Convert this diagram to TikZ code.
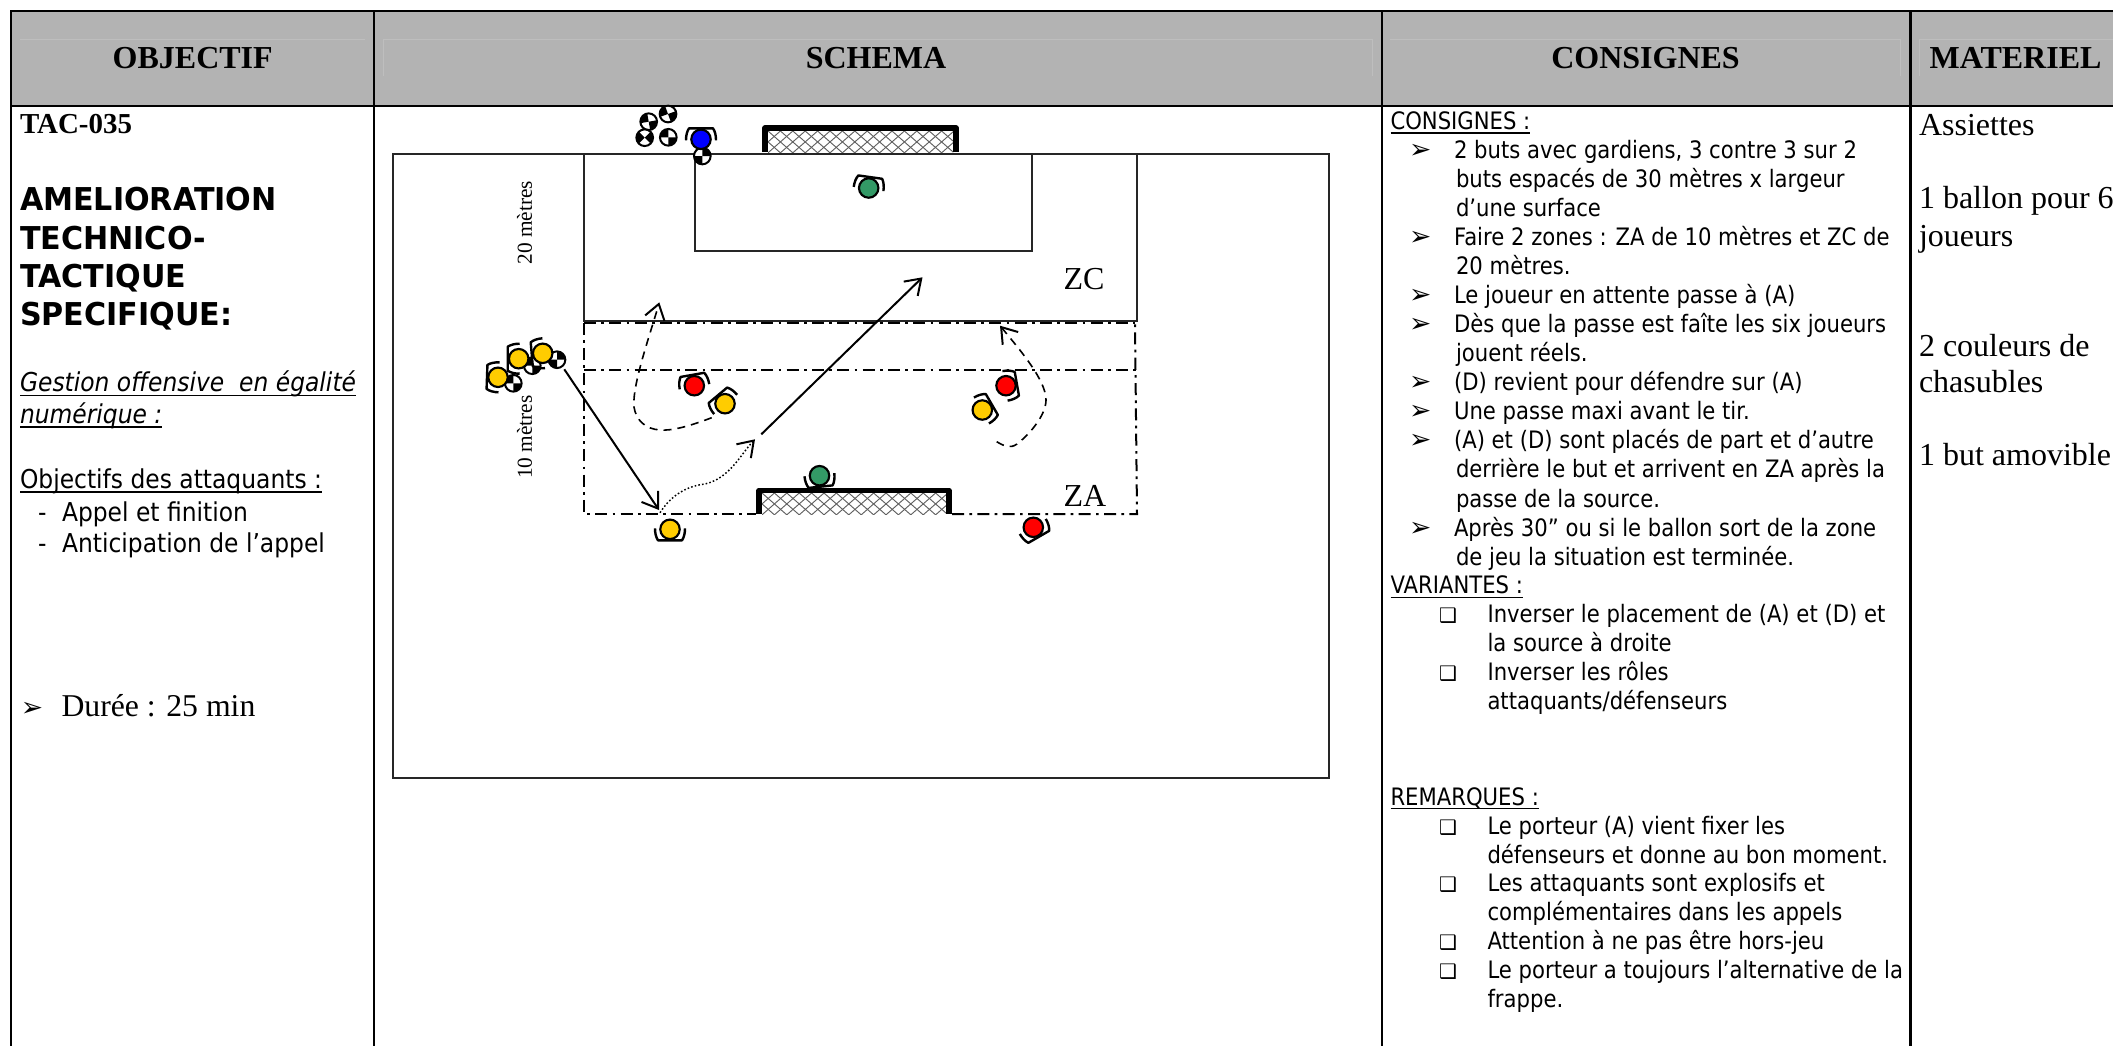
\documentclass[tikz,border=0pt]{standalone}
\usepackage{fontspec}
\setmainfont{Liberation Serif}
\newfontfamily\tah[FakeStretch=0.882]{DejaVu Sans}
\newfontfamily\tahl[FakeStretch=0.9]{DejaVu Sans}
\newfontfamily\tahb[FakeStretch=0.958]{DejaVu Sans}
\newfontfamily\djv{DejaVu Sans}
\usetikzlibrary{arrows.meta}
\newcommand\ulx[2][1.1pt]{\setbox0\hbox{#2}\rlap{\rule[-3.2pt]{\wd0}{#1}}\box0}
\definecolor{headgray}{HTML}{B3B3B3}
\definecolor{headline}{HTML}{BEBEBE}
\definecolor{netgray}{HTML}{606060}
\definecolor{plyellow}{HTML}{FFCC00}
\definecolor{plgreen}{HTML}{339966}
\tikzset{
  border/.style={line width=2pt,black},
  fieldline/.style={line width=1.5pt,black!85},
  zoneline/.style={line width=1.5pt,black,dash pattern=on 9pt off 4pt on 2pt off 4pt},
  goalbar/.style={line width=4.2pt,black,line join=round},
  netline/.style={line width=.7pt,netgray},
  hand/.style={line width=1.8pt,black,line join=round},
  playernode/.style={circle,draw=black,line width=1.6pt,inner sep=0pt,minimum size=14.6pt},
  ballnode/.style={circle,draw=black,line width=1.5pt,fill=white,inner sep=0pt,minimum size=12.5pt},
  headtxt/.style={font=\fontsize{24}{24}\selectfont\bfseries,inner sep=0pt,anchor=base},
  txt/.style={anchor=base west,inner sep=0pt,outer sep=0pt},
  ctxt/.style={txt,font=\fontsize{18}{20}\selectfont\tah},
  ltxt/.style={txt,font=\fontsize{19.5}{20}\selectfont\tahl},
  btxt/.style={txt,font=\fontsize{23.6}{24}\selectfont\tahb\bfseries},
  stxt/.style={txt,font=\fontsize{24}{24}\selectfont},
  bul/.style={txt,font=\fontsize{20}{20}\selectfont\djv},
  sqb/.style={txt,font=\fontsize{15}{15}\selectfont\djv},
  pass/.style={line width=1.5pt,-{Straight Barb[length=11pt,width=15pt,line width=1.5pt]}},
  run/.style={pass,line width=1.2pt,dash pattern=on 6pt off 4.5pt},
  drib/.style={pass,line width=1.1pt,dash pattern=on 1.2pt off 1.6pt},
  rotlbl/.style={font=\fontsize{16}{16}\selectfont,rotate=90,inner sep=0pt},
  zonelbl/.style={font=\fontsize{24}{24}\selectfont,inner sep=0pt,anchor=base}
}
% player: name, x, y, clockwise angle of the hands, colour
\newcommand\player[5]{%
  \draw[hand,shift={(#2,#3)},rotate=-#4] (-15,1) .. controls (-15,-4) and (-14,-8) .. (-12,-11) -- (12,-11) .. controls (14,-8) and (15,-4) .. (15,1);
  \node[playernode,fill=#5] (#1) at (#2,#3) {};}
% ball: name, x, y, angle
\newcommand\ball[4]{%
  \node[ballnode] (#1) at (#2,#3) {};
  \begin{scope}[shift={(#2,#3)},rotate=#4]
    \fill[black] (0,0) -- (7.8,0) arc[start angle=0,end angle=90,radius=7.8] -- cycle;
    \fill[black] (0,0) -- (-7.8,0) arc[start angle=180,end angle=270,radius=7.8] -- cycle;
  \end{scope}}
\newcommand\netfill[4]{%
  \begin{scope}
    \clip (#1,#2) rectangle (#3,#4);
    \foreach \k in {-4,...,20}{
      \draw[netline] ({#1+\k*12.4},#2) -- ++(25,22) ;
      \draw[netline] ({#1+\k*12.4},#2) -- ++(-25,22) ;
    }
  \end{scope}}
\begin{document}
\begin{tikzpicture}[x=.75pt,y=-.75pt]
\useasboundingbox (0,0) rectangle (2113,1046);
\fill[white] (0,0) rectangle (2113,1046);
% header band
\fill[headgray] (11,11) rectangle (2113,106);
\draw[headline,line width=.5pt] (20,39.5) -- (365,39.5);
\draw[headline,line width=.5pt] (383,76) -- (383,39.5) -- (1372,39.5) -- (1372,76);
\draw[headline,line width=.5pt] (1390,39.5) -- (1900,39.5) -- (1900,76);
\draw[headline,line width=.5pt] (1919,76) -- (1919,39.5) -- (2113,39.5);
% table rules
\draw[border] (2113,11) -- (11,11) -- (11,1046);
\draw[border] (11,106) -- (2113,106);
\draw[border] (374,11) -- (374,1046);
\draw[border] (1382,11) -- (1382,1046);
\draw[border] (1910.5,11) -- (1910.5,1046);
% header text
\node[headtxt] (hobj) at (192.7,68) {OBJECTIF};
\node[headtxt] (hsch) at (876,68) {SCHEMA};
\node[headtxt] (hcon) at (1645.5,68) {CONSIGNES};
\node[headtxt] (hmat) at (2015.5,68) {MATERIEL};
% left column
\node[txt,font=\fontsize{21.7}{22}\selectfont\bfseries] (tac) at (20,133) {TAC-035};
\node[btxt] (l1) at (20,210) {AMELIORATION};
\node[btxt] (l2) at (20,249) {TECHNICO-};
\node[btxt] (l3) at (20,287) {TACTIQUE};
\node[btxt] (l4) at (20,325.5) {SPECIFIQUE:};
\node[ltxt] (l5) at (20,391.7) {\ulx{\itshape Gestion offensive\ \ en égalité}};
\node[ltxt] (l6) at (20,423.3) {\ulx{\itshape numérique :}};
\node[ltxt] (l7) at (20,488.3) {\ulx{Objectifs des attaquants :}};
\node[ltxt] (l8a) at (38,521) {-};
\node[ltxt] (l8) at (62,521) {Appel et finition};
\node[ltxt] (l9a) at (38,552.7) {-};
\node[ltxt] (l9) at (62,552.7) {Anticipation de l’appel};
\node[bul] (l10a) at (21,716) {➢};
\node[stxt,font=\fontsize{23.8}{24}\selectfont] (l10) at (61.5,716) {Durée : 25 min};
% consignes column
\node[ctxt] (c0) at (1390.5,129.3) {\ulx{CONSIGNES :}};
\node[bul] (cb1) at (1409,158.3) {➢};
\node[ctxt] (c1) at (1454,158.3) {2 buts avec gardiens, 3 contre 3 sur 2};
\node[ctxt] (c2) at (1456,187.3) {buts espacés de 30 mètres x largeur};
\node[ctxt] (c3) at (1456,216.7) {d’une surface};
\node[bul] (cb2) at (1409,245.7) {➢};
\node[ctxt] (c4) at (1454,245.7) {Faire 2 zones : ZA de 10 mètres et ZC de};
\node[ctxt] (c5) at (1456,274.7) {20 mètres.};
\node[bul] (cb3) at (1409,303.3) {➢};
\node[ctxt] (c6) at (1454,303.3) {Le joueur en attente passe à (A)};
\node[bul] (cb4) at (1409,332.3) {➢};
\node[ctxt] (c7) at (1454,332.3) {Dès que la passe est faîte les six joueurs};
\node[ctxt] (c8) at (1456,361.7) {jouent réels.};
\node[bul] (cb5) at (1409,390.7) {➢};
\node[ctxt] (c9) at (1454,390.7) {(D) revient pour défendre sur (A)};
\node[bul] (cb6) at (1409,419.3) {➢};
\node[ctxt] (c10) at (1454,419.3) {Une passe maxi avant le tir.};
\node[bul] (cb7) at (1409,448.3) {➢};
\node[ctxt] (c11) at (1454,448.3) {(A) et (D) sont placés de part et d’autre};
\node[ctxt] (c12) at (1456,477.7) {derrière le but et arrivent en ZA après la};
\node[ctxt] (c13) at (1456,507) {passe de la source.};
\node[bul] (cb8) at (1409,536) {➢};
\node[ctxt] (c14) at (1454,536) {Après 30” ou si le ballon sort de la zone};
\node[ctxt] (c15) at (1456,565) {de jeu la situation est terminée.};
\node[ctxt] (v0) at (1390.5,593.7) {\ulx{VARIANTES :}};
\node[sqb] (vb1) at (1439,622.7) {❑};
\node[ctxt] (v1) at (1487.5,622.7) {Inverser le placement de (A) et (D) et};
\node[ctxt] (v2) at (1487.5,651.3) {la source à droite};
\node[sqb] (vb2) at (1439,680.7) {❑};
\node[ctxt] (v3) at (1487.5,680.7) {Inverser les rôles};
\node[ctxt] (v4) at (1487.5,709.3) {attaquants/défenseurs};
\node[ctxt] (r0) at (1390.5,805) {\ulx{REMARQUES :}};
\node[sqb] (rb1) at (1439,834) {❑};
\node[ctxt] (r1) at (1487.5,834) {Le porteur (A) vient fixer les};
\node[ctxt] (r2) at (1487.5,863.3) {défenseurs et donne au bon moment.};
\node[sqb] (rb2) at (1439,891.7) {❑};
\node[ctxt] (r3) at (1487.5,891.7) {Les attaquants sont explosifs et};
\node[ctxt] (r4) at (1487.5,920.7) {complémentaires dans les appels};
\node[sqb] (rb3) at (1439,949.3) {❑};
\node[ctxt] (r5) at (1487.5,949.3) {Attention à ne pas être hors-jeu};
\node[sqb] (rb4) at (1439,978.7) {❑};
\node[ctxt] (r6) at (1487.5,978.7) {Le porteur a toujours l’alternative de la};
\node[ctxt] (r7) at (1487.5,1007.3) {frappe.};
% materiel column
\node[stxt] (m1) at (1919,135) {Assiettes};
\node[stxt] (m2) at (1919,208) {1 ballon pour 6};
\node[stxt] (m3) at (1919,246) {joueurs};
\node[stxt] (m4) at (1919,356) {2 couleurs de};
\node[stxt] (m5) at (1919,392.7) {chasubles};
\node[stxt] (m6) at (1919,465.7) {1 but amovible};
% field
\draw[fieldline] (392.5,154.3) rectangle (1329,777.5);
\draw[fieldline] (584,154.3) -- (584,321) -- (1137,321) -- (1137,154.3);
\draw[fieldline] (695,154.3) -- (695,251) -- (1032,251) -- (1032,154.3);
\draw[zoneline] (584,322.5) -- (1135,322.5);
\draw[zoneline] (584,322.5) -- (584,514) -- (756,514);
\draw[zoneline] (952,514) -- (1137,514) -- (1135,322.5);
\draw[zoneline] (584,370) -- (1137,370);
% goals
\netfill{768}{131}{953}{152}
\draw[goalbar] (765,152) -- (765,128) -- (956,128) -- (956,152);
\netfill{762}{493}{946}{514}
\draw[goalbar] (759,514) -- (759,490.5) -- (949,490.5) -- (949,514);
% labels
\node[rotlbl] (l20) at (524.6,222.7) {20 mètres};
\node[rotlbl] (l10m) at (524.6,437) {10 mètres};
\node[zonelbl] (zc) at (1084,289) {ZC};
\node[zonelbl] (za) at (1085,506) {ZA};
% balls
\ball{b1}{668}{114}{20}
\ball{b2}{648.7}{121.7}{10}
\ball{b3}{644.7}{137.7}{45}
\ball{b4}{668.3}{137.3}{0}
\ball{b5}{702.3}{156}{90}
\ball{b6}{513.3}{383.3}{0}
\ball{b7}{532.3}{365.7}{0}
\ball{b8}{557}{359.7}{90}
% players
\player{blue}{701}{139.3}{0}{blue}
\player{gk1}{868.7}{188}{8}{plgreen}
\player{gk2}{819.5}{475.7}{174}{plgreen}
\player{y1}{498}{377.3}{-88}{plyellow}
\player{y2}{518.7}{358.7}{-90}{plyellow}
\player{y3}{542.7}{353.3}{-95}{plyellow}
\player{r1}{694.3}{385.7}{-10}{red}
\player{y4}{725}{403.7}{-40}{plyellow}
\player{y5}{670}{529.3}{180}{plyellow}
\player{r2}{1006}{385.7}{80}{red}
\player{y6}{982.3}{410}{60}{plyellow}
\player{r3}{1033.3}{527.3}{150}{red}
% connectors
\coordinate (p1s) at (564.3,369.3);
\coordinate (p1e) at (659,510);
\coordinate (d1s) at (660,512.7);
\coordinate (d1e) at (755,439.3);
\coordinate (p2s) at (761.3,434.3);
\coordinate (p2e) at (922.5,277.3);
\coordinate (r1s) at (711.7,417.7);
\coordinate (r1e) at (659.3,302.3);
\coordinate (r2s) at (996.7,441.7);
\coordinate (r2e) at (1000,325.7);
\draw[pass] (p1s) -- (p1e);
\draw[drib] (d1s) .. controls (672,494) and (688,486) .. (705,484) .. controls (730,478) and (740,455) .. (d1e);
\draw[pass] (p2s) -- (p2e);
\draw[run] (r1s) .. controls (690,426) and (672,431) .. (660,430) .. controls (645,429) and (636,420) .. (634,407) .. controls (632,385) and (650,335) .. (r1e);
\draw[run] (r2s) .. controls (1004,446) and (1010,449) .. (1017,444) .. controls (1030,434) and (1046,415) .. (1046,400) .. controls (1046,380) and (1020,350) .. (r2e);
\end{tikzpicture}
\end{document}
